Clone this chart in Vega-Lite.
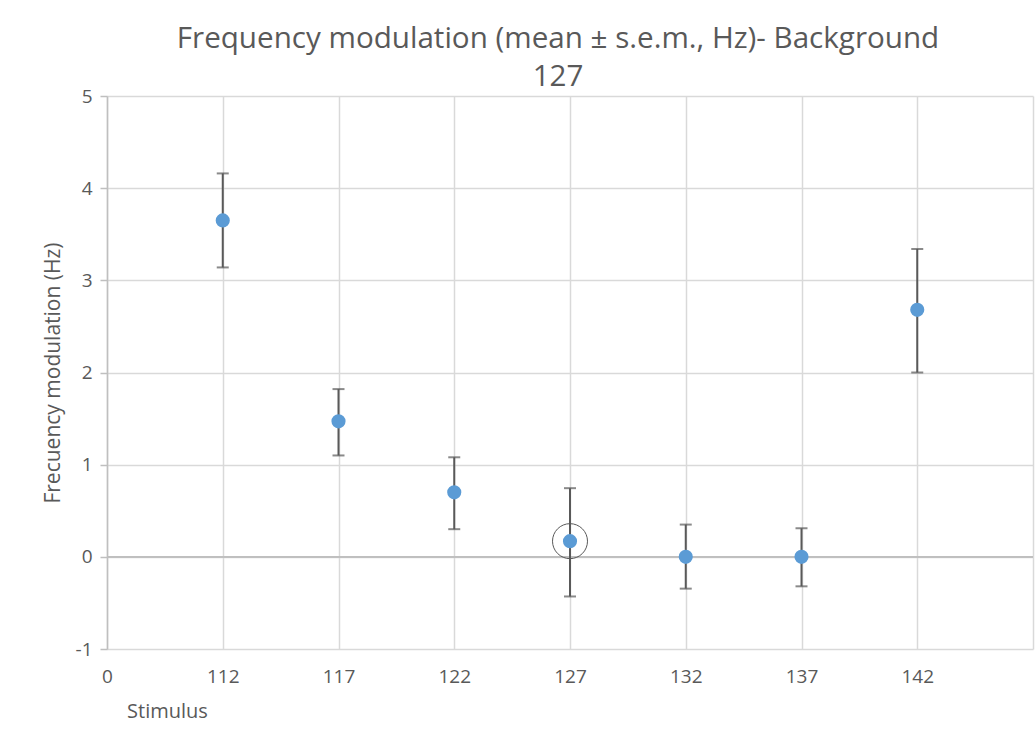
{
  "$schema": "https://vega.github.io/schema/vega-lite/v6.json",
  "width": 926,
  "height": 553,
  "autosize": "none",
  "padding": {"left": 107, "top": 96, "right": 2, "bottom": 80},
  "background": "white",
  "config": {
    "view": {"stroke": null},
    "font": "Open Sans"
  },
  "title": {
    "text": ["Frequency modulation (mean ± s.e.m., Hz)- Background", "127"],
    "anchor": "middle",
    "frame": "group",
    "fontSize": 29.6,
    "fontWeight": "normal",
    "font": "Open Sans",
    "color": "#595959",
    "lineHeight": 38,
    "offset": 8,
    "dx": -12,
    "dy": 14
  },
  "data": {
    "values": [
      {"stimulus": "112", "mean": 3.65, "lo": 3.14, "hi": 4.16},
      {"stimulus": "117", "mean": 1.47, "lo": 1.10, "hi": 1.82},
      {"stimulus": "122", "mean": 0.70, "lo": 0.30, "hi": 1.08},
      {"stimulus": "127", "mean": 0.17, "lo": -0.43, "hi": 0.745},
      {"stimulus": "132", "mean": 0.00, "lo": -0.345, "hi": 0.35},
      {"stimulus": "137", "mean": 0.00, "lo": -0.32, "hi": 0.31},
      {"stimulus": "142", "mean": 2.68, "lo": 2.00, "hi": 3.34}
    ]
  },
  "encoding": {
    "x": {
      "field": "stimulus",
      "type": "ordinal",
      "scale": {"type": "point", "domain": ["0", "112", "117", "122", "127", "132", "137", "142", "end"], "padding": 0},
      "axis": {
        "title": "Stimulus",
        "labelAngle": 0,
        "labelExpr": "datum.value == 'end' ? '' : datum.label",
        "labelFont": "Open Sans",
        "labelFontSize": 19,
        "labelColor": "#595959",
        "labelPadding": 18,
        "ticks": false,
        "domain": false,
        "grid": true,
        "gridColor": "#d9d9d9",
        "gridWidth": 1.5,
        "titleFont": "Open Sans",
        "titleFontSize": 20,
        "titleFontWeight": "normal",
        "titleColor": "#595959",
        "titleAlign": "center",
        "titleBaseline": "middle",
        "titleX": 60,
        "titleY": 62
      }
    },
    "y": {
      "field": "lo",
      "type": "quantitative",
      "scale": {"domain": [-1, 5], "nice": false, "zero": false},
      "axis": {
        "title": "Frecuency modulation (Hz)",
        "values": [-1, 0, 1, 2, 3, 4, 5],
        "labelExpr": "'' + datum.value",
        "labelFont": "Open Sans",
        "labelFontSize": 19,
        "labelColor": "#595959",
        "labelPadding": 8,
        "tickColor": "#bfbfbf",
        "tickSize": 7,
        "tickWidth": 1.5,
        "domainColor": "#bfbfbf",
        "domainWidth": 1.5,
        "grid": true,
        "gridColor": "#d9d9d9",
        "gridWidth": 1.5,
        "titleFont": "Open Sans",
        "titleFontSize": 21,
        "titleFontWeight": "normal",
        "titleColor": "#595959",
        "titlePadding": 12
      }
    }
  },
  "layer": [
    {
      "mark": {"type": "rule", "color": "#bfbfbf", "strokeWidth": 1.5},
      "encoding": {
        "y": {"datum": 0, "type": "quantitative"},
        "x": null
      }
    },
    {
      "mark": {"type": "rule", "color": "#595959", "strokeWidth": 2},
      "encoding": {
        "y2": {"field": "hi"}
      }
    },
    {
      "mark": {"type": "tick", "color": "#595959", "thickness": 2, "size": 12, "orient": "horizontal"},
      "encoding": {"y": {"field": "lo", "type": "quantitative"}}
    },
    {
      "mark": {"type": "tick", "color": "#595959", "thickness": 2, "size": 12, "orient": "horizontal"},
      "encoding": {"y": {"field": "hi", "type": "quantitative"}}
    },
    {
      "mark": {"type": "point", "filled": true, "shape": "circle", "color": "#5b9bd5", "opacity": 1, "size": 200},
      "encoding": {"y": {"field": "mean", "type": "quantitative"}}
    },
    {
      "transform": [{"filter": "datum.stimulus == '127'"}],
      "mark": {"type": "point", "filled": false, "shape": "circle", "color": "#595959", "strokeWidth": 1, "opacity": 1, "size": 1225},
      "encoding": {"y": {"field": "mean", "type": "quantitative"}}
    }
  ]
}
